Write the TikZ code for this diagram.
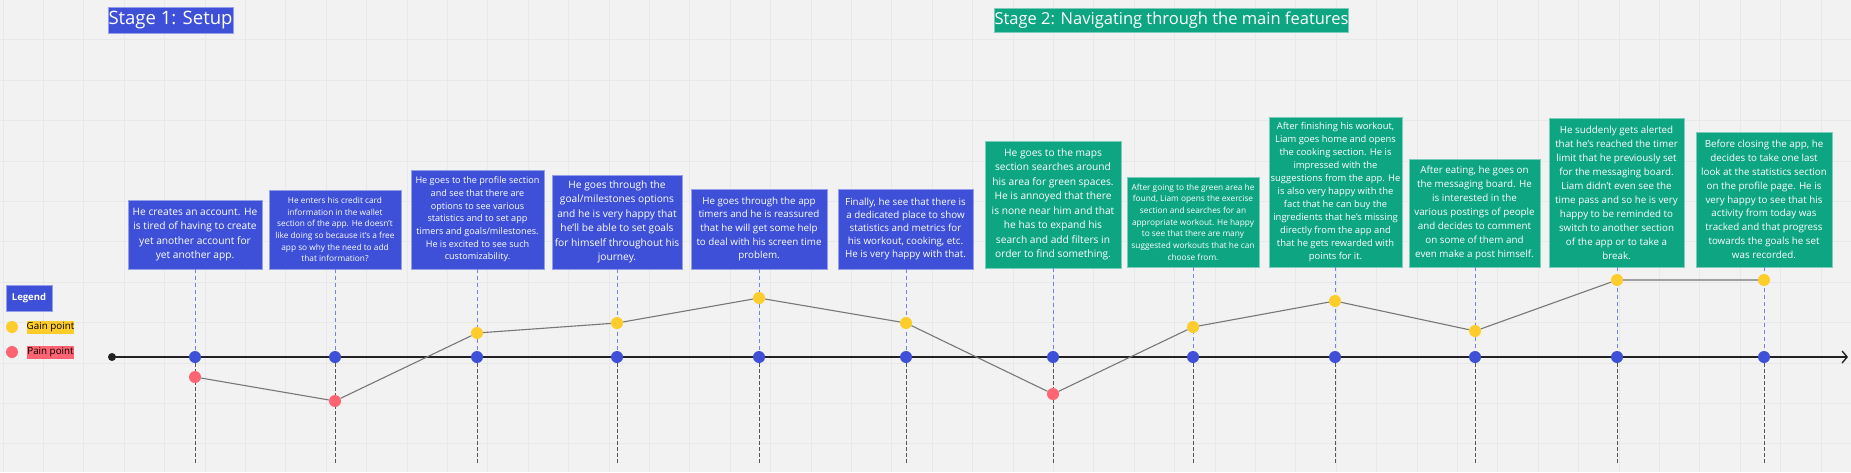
\documentclass[tikz,border=0pt]{standalone}
\usepackage{fontspec}
\setmainfont{Open Sans}
\usetikzlibrary{arrows.meta}
\definecolor{bg}{HTML}{F2F2F2}
\definecolor{gridc}{HTML}{E8E8E8}
\definecolor{boxblue}{HTML}{3E50D7}
\definecolor{boxgreen}{HTML}{0EA583}
\definecolor{gain}{HTML}{FFCD2B}
\definecolor{pain}{HTML}{FF6473}
\definecolor{dashblue}{HTML}{7282EA}
\definecolor{dashgrey}{HTML}{555555}
\definecolor{curvec}{HTML}{777777}
\definecolor{axisc}{HTML}{222222}
\newcommand{\fsz}[2]{\fontsize{#1}{#2}\selectfont}
\tikzset{
  bluecard/.style={fill=boxblue, draw=boxblue!55!white, line width=0.8pt, text=white, align=center, inner sep=0pt},
  greencard/.style={fill=boxgreen, draw=boxgreen!55!white, line width=0.8pt, text=white, align=center, inner sep=0pt},
  tdot/.style={circle, fill=boxblue, inner sep=0pt, minimum size=12pt},
  gdot/.style={circle, fill=gain, inner sep=0pt, minimum size=12pt},
  pdot/.style={circle, fill=pain, inner sep=0pt, minimum size=12pt},
  updash/.style={draw=dashblue, line width=0.9pt, dash pattern=on 4pt off 3pt},
  downdash/.style={draw=dashgrey, line width=0.9pt, dash pattern=on 3.5pt off 2.5pt},
  curveline/.style={draw=curvec, line width=1.1pt},
  gridline/.style={draw=gridc, line width=0.6pt},
  stagetitle/.style={text=white, inner sep=0pt}
}
\begin{document}
\begin{tikzpicture}[x=1pt,y=-1pt]
\useasboundingbox (0,0) rectangle (1851,472);
\fill[bg] (0,0) rectangle (1851,472);
\foreach \i in {0,...,45} \draw[gridline] ({2.8+\i*40.4},0) -- ++(0,472);
\foreach \j in {0,...,11} \draw[gridline] (0,{-0.8+\j*40.4}) -- ++(1851,0);

% stage titles
\node[stagetitle, fill=boxblue, draw=boxblue!55!white, minimum width=125pt, minimum height=26pt, font=\fsz{18.5}{22}] (s1) at (170.5,20) {Stage 1: Setup};
\node[stagetitle, fill=boxgreen, draw=boxgreen!55!white, minimum width=353pt, minimum height=24pt, font=\fsz{16.5}{20}] (s2) at (1171.5,20) {Stage 2: Navigating through the main features};

% legend
\node[bluecard, minimum width=46pt, minimum height=26pt, font=\bfseries\fsz{9.5}{11}] (leg) at (29,298) {Legend};
\node[gdot] (lg) at (12,327) {};
\node[fill=gain, inner sep=0pt, minimum width=47pt, minimum height=13pt, font=\fsz{9.8}{11}] (lgt) at (50.5,327.5) {Gain point};
\node[pdot] (lp) at (12,352) {};
\node[fill=pain, inner sep=0pt, minimum width=47pt, minimum height=13pt, font=\fsz{9.8}{11}] (lpt) at (50.5,352.5) {Pain point};

% cards
\node[bluecard, minimum width=134pt, minimum height=69pt, font=\fsz{10.2}{14.3}] (b1) at (195,234.5) {He creates an account. He\\is tired of having to create\\yet another account for\\yet another app.};
\node[bluecard, minimum width=132pt, minimum height=79pt, font=\fsz{8.3}{11.7}] (b2) at (335,229.5) {He enters his credit card\\information in the wallet\\section of the app. He doesn't\\like doing so because it's a free\\app so why the need to add\\that information?};
\node[bluecard, minimum width=133pt, minimum height=99pt, font=\fsz{9.1}{12.7}] (b3) at (477.5,219.5) {He goes to the profile section\\and see that there are\\options to see various\\statistics and to set app\\timers and goals/milestones.\\He is excited to see such\\customizability.};
\node[bluecard, minimum width=130pt, minimum height=94pt, font=\fsz{10.2}{14.5}] (b4) at (617,222) {He goes through the\\goal/milestones options\\and he is very happy that\\he'll be able to set goals\\for himself throughout his\\journey.};
\node[bluecard, minimum width=136pt, minimum height=80pt, font=\fsz{9.8}{13.7}] (b5) at (759,229) {He goes through the app\\timers and he is reassured\\that he will get some help\\to deal with his screen time\\problem.};
\node[bluecard, minimum width=135pt, minimum height=80pt, font=\fsz{9.8}{13.2}] (b6) at (905.5,229) {Finally, he see that there is\\a dedicated place to show\\statistics and metrics for\\his workout, cooking, etc.\\He is very happy with that.};
\node[greencard, minimum width=136pt, minimum height=127pt, font=\fsz{10.2}{14.5}] (b7) at (1053,204.5) {He goes to the maps\\section searches around\\his area for green spaces.\\He is annoyed that there\\is none near him and that\\he has to expand his\\search and add filters in\\order to find something.};
\node[greencard, minimum width=132pt, minimum height=90pt, font=\fsz{8.3}{11.7}] (b8) at (1193,222) {After going to the green area he\\found, Liam opens the exercise\\section and searches for an\\appropriate workout. He happy\\to see that there are many\\suggested workouts that he can\\choose from.};
\node[greencard, minimum width=133pt, minimum height=150pt, font=\fsz{9.4}{13}] (b9) at (1335.5,192) {After finishing his workout,\\Liam goes home and opens\\the cooking section. He is\\impressed with the\\suggestions from the app. He\\is also very happy with the\\fact that he can buy the\\ingredients that he's missing\\directly from the app and\\that he gets rewarded with\\points for it.};
\node[greencard, minimum width=131pt, minimum height=108pt, font=\fsz{9.8}{14}] (b10) at (1474.5,213) {After eating, he goes on\\the messaging board. He\\is interested in the\\various postings of people\\and decides to comment\\on some of them and\\even make a post himself.};
\node[greencard, minimum width=135pt, minimum height=149pt, font=\fsz{9.8}{14}] (b11) at (1616.5,192.5) {He suddenly gets alerted\\that he's reached the timer\\limit that he previously set\\for the messaging board.\\Liam didn't even see the\\time pass and so he is very\\happy to be reminded to\\switch to another section\\of the app or to take a\\break.};
\node[greencard, minimum width=136pt, minimum height=135pt, font=\fsz{9.8}{13.8}] (b12) at (1764,199.5) {Before closing the app, he\\decides to take one last\\look at the statistics section\\on the profile page. He is\\very happy to see that his\\activity from today was\\tracked and that progress\\towards the goals he set\\was recorded.};

% timeline dots positions
\foreach \k/\x in {1/195,2/335,3/477,4/617,5/759,6/906,7/1053,8/1193,9/1335,10/1475,11/1617,12/1764} {
  \coordinate (z\k) at (\x,463);
}
% dashed verticals
\foreach \k/\x in {1/195,2/335,3/477,4/617,5/759,6/906,7/1053,8/1193,9/1335,10/1475,11/1617,12/1764} {
  \coordinate (tp\k) at (\x,357);
  \draw[updash] (b\k.south -| tp\k) -- (tp\k);
  \draw[downdash] (tp\k) -- (z\k);
}

% axis
\node[circle, fill=axisc, inner sep=0pt, minimum size=8pt] (start) at (112,357) {};
\coordinate (tip) at (1848,357);
\draw[axisc, line width=2pt, -{Straight Barb[length=5pt,width=12pt,line width=1.4pt]}] (start.center) -- (tip);

% emotion points
\node[pdot] (e1) at (195,377) {};
\node[pdot] (e2) at (335,401) {};
\node[gdot] (e3) at (477,333) {};
\node[gdot] (e4) at (617,323) {};
\node[gdot] (e5) at (759,298) {};
\node[gdot] (e6) at (906,323) {};
\node[pdot] (e7) at (1053,394) {};
\node[gdot] (e8) at (1193,327) {};
\node[gdot] (e9) at (1335,301) {};
\node[gdot] (e10) at (1475,331) {};
\node[gdot] (e11) at (1617,280) {};
\node[gdot] (e12) at (1764,280) {};
\draw[curveline] (e1) -- (e2) -- (e3) -- (e4) -- (e5) -- (e6) -- (e7) -- (e8) -- (e9) -- (e10) -- (e11);
\draw[draw=curvec!70!white, line width=1.8pt] (e11) -- (e12);

% blue timeline dots
\foreach \k/\x in {1/195,2/335,3/477,4/617,5/759,6/906,7/1053,8/1193,9/1335,10/1475,11/1617,12/1764} {
  \node[tdot] (t\k) at (tp\k) {};
}
\end{tikzpicture}
\end{document}
